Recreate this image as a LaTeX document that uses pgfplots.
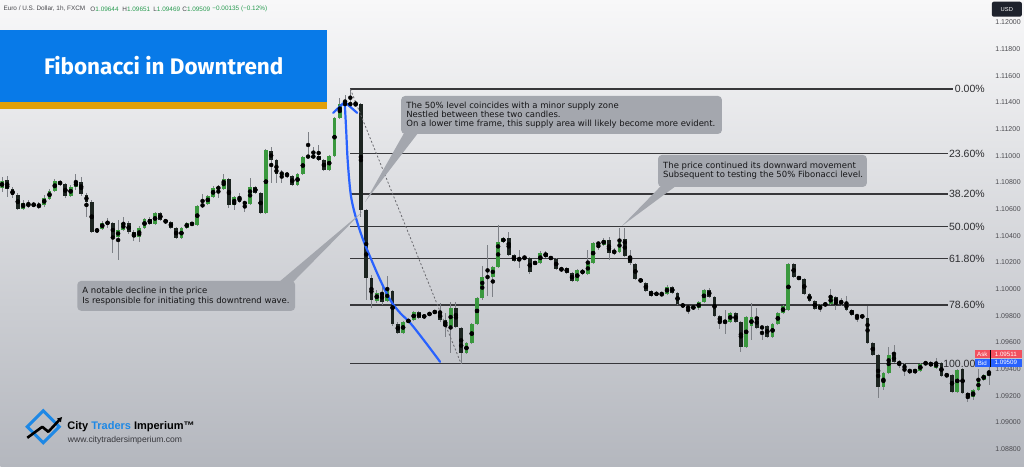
\documentclass[border=0pt]{standalone}
\usepackage{fontspec}
\setmainfont{DejaVu Sans}
\newfontfamily\lib{Liberation Sans}
\newfontfamily\fira{Fira Sans}
\usepackage{pgfplots}
\pgfplotsset{compat=1.18}
\usepackage{pgfplotstable}
\usetikzlibrary{arrows.meta}

\definecolor{bgtop}{RGB}{248,248,249}
\definecolor{bgbot}{RGB}{180,183,190}
\definecolor{cgreen}{RGB}{58,152,62}
\definecolor{cblack}{RGB}{28,36,32}
\definecolor{cwick}{RGB}{125,128,134}
\definecolor{fibline}{RGB}{55,55,58}
\definecolor{fibtext}{RGB}{45,45,48}
\definecolor{ticktext}{RGB}{75,75,80}
\definecolor{tvblue}{RGB}{41,98,255}
\definecolor{boxgray}{RGB}{164,167,174}
\definecolor{annot}{RGB}{22,22,24}
\definecolor{titleblue}{RGB}{8,122,232}
\definecolor{titleorange}{RGB}{225,160,10}
\definecolor{askred}{RGB}{242,80,94}
\definecolor{bidblue}{RGB}{41,98,255}
\definecolor{hdrgreen}{RGB}{40,155,80}
\definecolor{hdrgray}{RGB}{70,70,75}
\definecolor{logoblue}{RGB}{30,136,229}
\definecolor{usdbox}{RGB}{30,34,45}

% bullish (green) candles: index, open, high, low, close
\pgfplotstableread{
i O H L C
0 1.107590 1.108415 1.107290 1.108115
4 1.106015 1.106690 1.105940 1.106465
5 1.106240 1.106690 1.106090 1.106390
6 1.106240 1.106540 1.106165 1.106390
8 1.106315 1.107065 1.106165 1.106840
9 1.106765 1.107515 1.106690 1.107365
10 1.107365 1.108265 1.107290 1.108115
13 1.106990 1.107815 1.106915 1.107665
14 1.107665 1.108640 1.107440 1.108040
18 1.104290 1.104590 1.104215 1.104515
19 1.104515 1.105115 1.104440 1.104965
20 1.104890 1.105340 1.104590 1.105040
22 1.103915 1.105190 1.102190 1.104440
23 1.104440 1.105415 1.104365 1.104965
26 1.103915 1.104740 1.103540 1.104590
27 1.104590 1.105340 1.104515 1.105265
29 1.104890 1.105790 1.104815 1.105715
34 1.103840 1.104665 1.103765 1.104590
35 1.104590 1.105040 1.104515 1.104965
36 1.104815 1.105040 1.104740 1.104965
37 1.104815 1.106315 1.104740 1.106240
38 1.106165 1.107140 1.106090 1.106390
39 1.106390 1.107065 1.106315 1.106990
40 1.106915 1.107740 1.106840 1.107590
41 1.107515 1.107815 1.106840 1.107665
42 1.107515 1.108640 1.107440 1.108265
44 1.106315 1.106990 1.105940 1.106915
47 1.106390 1.108340 1.106315 1.107665
50 1.105715 1.110515 1.105640 1.110440
53 1.108640 1.108940 1.107965 1.108715
56 1.107815 1.108715 1.107740 1.108640
57 1.108640 1.109990 1.108565 1.109915
58 1.109915 1.111790 1.109840 1.109990
62 1.108940 1.110065 1.108865 1.109990
63 1.109990 1.112915 1.109915 1.112840
64 1.112840 1.114340 1.112765 1.113890
65 1.113815 1.114565 1.113590 1.113965
67 1.113815 1.114115 1.113740 1.113890
71 1.099115 1.099940 1.098965 1.099715
73 1.099115 1.100990 1.099040 1.099865
76 1.096715 1.097615 1.096640 1.097540
77 1.097540 1.097765 1.097465 1.097690
78 1.097690 1.098365 1.097615 1.098290
80 1.097840 1.098140 1.097765 1.098065
81 1.098065 1.098290 1.097990 1.098215
82 1.098215 1.098440 1.098140 1.098365
85 1.097240 1.099040 1.095215 1.098590
88 1.095215 1.096040 1.095140 1.095965
89 1.095965 1.097465 1.095890 1.097390
90 1.097390 1.099415 1.097315 1.099340
91 1.099340 1.101740 1.099190 1.100915
93 1.100915 1.101740 1.099415 1.101665
94 1.101665 1.104815 1.101590 1.103540
95 1.103540 1.103915 1.103465 1.103840
98 1.102115 1.102940 1.101590 1.102340
99 1.102340 1.102490 1.102190 1.102415
101 1.101890 1.102115 1.101815 1.102040
102 1.101965 1.102865 1.101890 1.102715
106 1.101440 1.101665 1.101290 1.101590
109 1.100615 1.101515 1.100540 1.101440
111 1.101140 1.102940 1.101065 1.101965
112 1.101965 1.103540 1.101890 1.103465
113 1.103390 1.103540 1.102940 1.103465
114 1.103315 1.103840 1.103240 1.103690
116 1.102715 1.103090 1.102565 1.102865
117 1.102790 1.104590 1.102715 1.103765
125 1.099565 1.099790 1.099490 1.099640
126 1.099640 1.100315 1.099565 1.100165
131 1.098590 1.098815 1.098440 1.098665
132 1.098590 1.099115 1.098440 1.099040
133 1.099040 1.100015 1.098965 1.099940
137 1.097540 1.098440 1.096640 1.097615
138 1.097540 1.098290 1.097465 1.098215
141 1.095665 1.097990 1.095590 1.097915
142 1.097240 1.098965 1.096190 1.097915
146 1.096415 1.097465 1.096340 1.097390
147 1.097390 1.098290 1.097315 1.098215
148 1.098215 1.098815 1.098140 1.098740
149 1.098440 1.101965 1.098365 1.101890
155 1.098515 1.098890 1.098290 1.098815
156 1.098815 1.098965 1.098740 1.098890
157 1.098890 1.100015 1.098815 1.099415
159 1.098965 1.099340 1.098740 1.099040
163 1.097915 1.098065 1.097840 1.097990
167 1.092665 1.093790 1.092440 1.093715
168 1.093715 1.095665 1.093640 1.095065
173 1.093790 1.094015 1.093640 1.093940
174 1.093865 1.094465 1.093790 1.094390
175 1.094390 1.094615 1.094315 1.094465
177 1.094090 1.094840 1.094015 1.094465
179 1.093490 1.093715 1.093415 1.093565
181 1.092290 1.094015 1.092215 1.093940
184 1.091915 1.092515 1.091690 1.092440
185 1.092440 1.094015 1.092365 1.093190
186 1.093190 1.093640 1.093115 1.093565
187 1.093565 1.094690 1.092815 1.093715
}\bullTab

% bearish (dark) candles: index, open, high, low, close
\pgfplotstableread{
i O H L C
1 1.108190 1.108490 1.106915 1.107515
2 1.107515 1.107665 1.106840 1.107065
3 1.107065 1.107215 1.105940 1.106015
7 1.106315 1.106540 1.106015 1.106165
11 1.108040 1.108190 1.107740 1.107890
12 1.107890 1.107965 1.106840 1.106990
15 1.108040 1.108415 1.106990 1.107140
16 1.107065 1.107215 1.105415 1.106540
17 1.106540 1.106690 1.104215 1.104290
21 1.104965 1.105040 1.102715 1.103915
24 1.104965 1.105115 1.104140 1.104290
25 1.104290 1.104440 1.103615 1.103915
28 1.105265 1.105415 1.104815 1.104890
30 1.105715 1.105790 1.105115 1.105190
31 1.105190 1.105265 1.104890 1.105040
32 1.105040 1.105115 1.104515 1.104590
33 1.104590 1.104665 1.103765 1.103840
43 1.108265 1.108340 1.106090 1.106315
45 1.106915 1.107215 1.106465 1.106540
46 1.106540 1.106615 1.105790 1.106390
48 1.107665 1.107740 1.107140 1.107215
49 1.107215 1.107290 1.105640 1.105715
51 1.110365 1.110665 1.107965 1.109690
52 1.109690 1.109765 1.107965 1.108640
54 1.108715 1.108790 1.108340 1.108490
55 1.108490 1.108565 1.107740 1.107815
59 1.109990 1.110665 1.109840 1.109915
60 1.109990 1.110815 1.109615 1.109690
61 1.109690 1.109765 1.108865 1.108940
66 1.113965 1.115015 1.113740 1.113815
68 1.113890 1.113965 1.105415 1.105940
69 1.105940 1.106015 1.099190 1.100840
70 1.100840 1.101065 1.098590 1.099190
72 1.099715 1.100465 1.098815 1.099040
74 1.099865 1.099940 1.097240 1.097390
75 1.097390 1.097540 1.096640 1.096715
79 1.098290 1.098365 1.097765 1.097840
83 1.098290 1.098965 1.097540 1.097690
84 1.097690 1.098215 1.096415 1.097240
86 1.098590 1.099040 1.097090 1.097165
87 1.097090 1.097165 1.094390 1.095215
92 1.100990 1.103315 1.099490 1.100840
96 1.103840 1.104290 1.102490 1.102565
97 1.102565 1.102640 1.102040 1.102115
100 1.102340 1.102415 1.101140 1.101290
103 1.102715 1.102865 1.102340 1.102415
104 1.102415 1.102490 1.102190 1.102265
105 1.102265 1.102340 1.101440 1.101515
107 1.101590 1.101665 1.101140 1.101215
108 1.101215 1.101290 1.100540 1.100615
110 1.101440 1.101515 1.101065 1.101140
115 1.103690 1.103915 1.102190 1.102715
118 1.103765 1.104590 1.102415 1.102490
119 1.102490 1.102940 1.101815 1.101965
120 1.101890 1.101965 1.100690 1.100765
121 1.100765 1.100840 1.100465 1.100540
122 1.100465 1.100540 1.099790 1.099865
123 1.099865 1.099940 1.099415 1.099490
124 1.099715 1.099790 1.099490 1.099565
127 1.100165 1.100240 1.099640 1.099715
128 1.099715 1.099790 1.098815 1.098890
129 1.098890 1.098965 1.098590 1.098665
130 1.098665 1.098740 1.098140 1.098590
134 1.099940 1.100090 1.099340 1.099415
135 1.099415 1.099490 1.097915 1.097990
136 1.097990 1.098065 1.097015 1.097540
139 1.098215 1.098290 1.097465 1.097540
140 1.097540 1.097615 1.095290 1.095665
143 1.097915 1.098590 1.097015 1.097090
144 1.097165 1.097240 1.096190 1.097090
145 1.097240 1.097315 1.096340 1.096415
150 1.101890 1.101965 1.100840 1.100915
151 1.100915 1.100990 1.100690 1.100765
152 1.100765 1.100840 1.099565 1.099640
153 1.099640 1.099715 1.099040 1.099115
154 1.099115 1.099190 1.098440 1.098515
158 1.099415 1.099490 1.098440 1.098965
160 1.098965 1.099490 1.098365 1.098440
161 1.098440 1.098515 1.097990 1.098065
162 1.098065 1.098140 1.097540 1.097915
164 1.097840 1.098740 1.095890 1.095965
165 1.095965 1.096040 1.094990 1.095065
166 1.095065 1.095140 1.091840 1.092665
169 1.095065 1.095815 1.094465 1.094540
170 1.094540 1.094690 1.094090 1.094390
171 1.094390 1.094465 1.093490 1.093940
172 1.093940 1.094015 1.093640 1.093790
176 1.094465 1.094615 1.094165 1.094240
178 1.094465 1.094540 1.093415 1.093490
180 1.093565 1.093640 1.092215 1.092290
182 1.094015 1.094090 1.092140 1.092215
183 1.092215 1.092290 1.091540 1.091915
}\bearTab

\begin{document}
\begin{tikzpicture}
\begin{scope}[x=1pt,y=1pt]
\useasboundingbox (0,0) rectangle (1024,467);
\shade[top color=bgtop, bottom color=bgbot] (0,0) rectangle (1024,467);
% title banner
\fill[titleblue] (0,365) rectangle (327,437);
\fill[titleorange] (0,358) rectangle (327,365);
\node[text=white, font=\fira\bfseries\fontsize{22.5}{26}\selectfont] at (163.5,401) {Fibonacci in Downtrend};
\end{scope}

\begin{axis}[
  at={(0pt,0pt)}, anchor=south west,
  scale only axis, width=992pt, height=467pt,
  xmin=-0.32, xmax=187.55, ymin=1.086665, ymax=1.12169,
  axis line style={draw=none}, tick style={draw=none},
  xtick=\empty,
  ytick={1.088,1.090,1.092,1.094,1.096,1.098,1.100,1.102,1.104,1.106,1.108,1.110,1.112,1.114,1.116,1.118,1.120},
  yticklabel pos=right, scaled y ticks=false,
  y tick label style={font=\lib\fontsize{7}{8}\selectfont, text=ticktext,
    /pgf/number format/.cd, fixed, fixed zerofill, precision=5, assume math mode=true},
  clip=true,
]
% Fibonacci retracement levels
\addplot[fibline, line width=1.3pt] coordinates {(66,1.115015) (180.2,1.115015)};
\addplot[fibline, line width=1.3pt] coordinates {(66,1.1101475) (179.2,1.1101475)};
\addplot[fibline, line width=1.3pt] coordinates {(66,1.1071362) (179.2,1.1071362)};
\addplot[fibline, line width=1.3pt] coordinates {(66,1.1047025) (179.2,1.1047025)};
\addplot[fibline, line width=1.3pt] coordinates {(66,1.1022687) (179.2,1.1022687)};
\addplot[fibline, line width=1.3pt] coordinates {(66,1.0988037) (179.2,1.0988037)};
\addplot[fibline, line width=1.3pt] coordinates {(66,1.094390) (178.2,1.094390)};

% wicks
\addplot[only marks, mark=none, error bars/.cd, y dir=both, y explicit, error mark=none,
  error bar style={cwick, line width=0.9pt}]
  table[x=i, y expr={(\thisrow{H}+\thisrow{L})/2}, y error expr={(\thisrow{H}-\thisrow{L})/2}] {\bullTab};
\addplot[only marks, mark=none, error bars/.cd, y dir=both, y explicit, error mark=none,
  error bar style={cwick, line width=0.9pt}]
  table[x=i, y expr={(\thisrow{H}+\thisrow{L})/2}, y error expr={(\thisrow{H}-\thisrow{L})/2}] {\bearTab};
% bodies
\addplot[only marks, mark=none, error bars/.cd, y dir=both, y explicit, error mark=none,
  error bar style={cgreen, line width=3.8pt}]
  table[x=i, y expr={(\thisrow{O}+\thisrow{C})/2}, y error expr={abs(\thisrow{C}-\thisrow{O})/2}] {\bullTab};
\addplot[only marks, mark=none, error bars/.cd, y dir=both, y explicit, error mark=none,
  error bar style={cblack, line width=3.8pt}]
  table[x=i, y expr={(\thisrow{O}+\thisrow{C})/2}, y error expr={abs(\thisrow{C}-\thisrow{O})/2}] {\bearTab};

% dotted swing line
\addplot[draw={rgb,255:red,105;green,105;blue,110}, line width=0.8pt, dash pattern=on 2pt off 2pt]
  coordinates {(66,1.115015) (87,1.094390)};
% blue drawing
\addplot[tvblue, line width=2.2pt, line cap=round, line join=round]
  coordinates {(62.75,1.11322) (64.93,1.11404) (67.29,1.11322)};
\addplot[tvblue, line width=2.2pt, smooth, tension=0.55, line cap=round]
  coordinates {(64.93,1.11404) (65.21,1.111940) (65.49,1.109690) (65.97,1.107440) (66.44,1.106315)
  (67.29,1.105040) (68.43,1.103690) (69.75,1.102415) (71.65,1.100690) (73.54,1.099190)
  (75.42,1.098215) (77.33,1.097465) (80.17,1.096040) (83.01,1.094540)};

% level labels
\node[anchor=east, inner sep=0pt, font=\lib\fontsize{10.5}{12}\selectfont, text=fibtext] at (axis cs:186.23,1.115015) {0.00\%};
\node[anchor=east, inner sep=0pt, font=\lib\fontsize{10.5}{12}\selectfont, text=fibtext] at (axis cs:186.23,1.1101475) {23.60\%};
\node[anchor=east, inner sep=0pt, font=\lib\fontsize{10.5}{12}\selectfont, text=fibtext] at (axis cs:186.23,1.1071362) {38.20\%};
\node[anchor=east, inner sep=0pt, font=\lib\fontsize{10.5}{12}\selectfont, text=fibtext] at (axis cs:186.23,1.1047025) {50.00\%};
\node[anchor=east, inner sep=0pt, font=\lib\fontsize{10.5}{12}\selectfont, text=fibtext] at (axis cs:186.23,1.1022687) {61.80\%};
\node[anchor=east, inner sep=0pt, font=\lib\fontsize{10.5}{12}\selectfont, text=fibtext] at (axis cs:186.23,1.0988037) {78.60\%};
\node[anchor=east, inner sep=0pt, font=\lib\fontsize{10.5}{12}\selectfont, text=fibtext] at (axis cs:186.23,1.094390) {100.00\%};
\end{axis}

\begin{scope}[x=1pt,y=1pt]
% header
\node[anchor=west, inner sep=0pt, font=\lib\fontsize{6.4}{7}\selectfont, text=hdrgray] at (3,458) {Euro / U.S. Dollar, 1h, FXCM};
\node[anchor=west, inner sep=0pt, font=\lib\fontsize{6.4}{7}\selectfont] at (90,458) {\textcolor{hdrgray}{O}\textcolor{hdrgreen}{1.09644}};
\node[anchor=west, inner sep=0pt, font=\lib\fontsize{6.4}{7}\selectfont] at (122,458) {\textcolor{hdrgray}{H}\textcolor{hdrgreen}{1.09651}};
\node[anchor=west, inner sep=0pt, font=\lib\fontsize{6.4}{7}\selectfont] at (153,458) {\textcolor{hdrgray}{L}\textcolor{hdrgreen}{1.09469}};
\node[anchor=west, inner sep=0pt, font=\lib\fontsize{6.4}{7}\selectfont] at (182,458) {\textcolor{hdrgray}{C}\textcolor{hdrgreen}{1.09509}};
\node[anchor=west, inner sep=0pt, font=\lib\fontsize{6.4}{7}\selectfont, text=hdrgreen] at (212,458) {−0.00135 (−0.12\%)};

% annotation 1
\fill[boxgray, rounded corners=4pt] (401,333) rectangle (722,371);
\fill[boxgray] (404,334) -- (418,334) -- (365,265) -- cycle;
\node[anchor=north west, inner sep=0pt, align=left, font=\fontsize{8.5}{9.2}\selectfont, text=annot] at (406,365.5)
 {The 50\% level coincides with a minor supply zone\\Nestled between these two candles.\\On a lower time frame, this supply area will likely become more evident.};
% annotation 2
\fill[boxgray, rounded corners=4pt] (658,280) rectangle (867,312);
\fill[boxgray] (661,281) -- (676,281) -- (622,241) -- cycle;
\node[anchor=north west, inner sep=0pt, align=left, font=\fontsize{8.5}{9.2}\selectfont, text=annot] at (663,305)
 {The price continued its downward movement\\Subsequent to testing the 50\% Fibonacci level.};
% annotation 3
\fill[boxgray, rounded corners=4pt] (77,156) rectangle (295,186);
\fill[boxgray] (279,185) -- (293,185) -- (362,255) -- cycle;
\node[anchor=north west, inner sep=0pt, align=left, font=\fontsize{8.5}{9.6}\selectfont, text=annot] at (82,180)
 {A notable decline in the price\\Is responsible for initiating this downtrend wave.};

% logo
\draw[logoblue, line width=3pt, line join=miter] (27,40) -- (43,56) -- (59,40) -- (43,24) -- cycle;
\draw[black, line width=2.6pt, line join=round, -{Latex[length=5pt,width=6pt]}] (27,29) -- (42,40) -- (48,35) -- (62,50);
\node[anchor=west, inner sep=0pt, font=\lib\bfseries\fontsize{11}{12}\selectfont] at (67,40.5)
 {City \textcolor{logoblue}{Traders} Imperium™};
\node[anchor=west, inner sep=0pt, font=\lib\fontsize{8.6}{9}\selectfont, text={rgb,255:red,55;green,55;blue,60}] at (67.5,27)
 {www.citytradersimperium.com};

% price scale badges
\fill[usdbox, rounded corners=2pt] (992,450.3) rectangle (1022,465.3);
\node[text=white, font=\lib\fontsize{5.8}{6}\selectfont] at (1007,457.8) {USD};
\fill[askred] (975,108.7) rectangle (1022,117);
\fill[bidblue] (975,99.7) rectangle (1022,108.3);
\draw[black, line width=0.6pt] (990,99.7) -- (990,117);
\node[text=white, font=\lib\fontsize{6.2}{7}\selectfont] at (982.5,112.9) {Ask};
\node[text=white, font=\lib\fontsize{6.2}{7}\selectfont] at (1006,112.9) {1.09511};
\node[text=white, font=\lib\fontsize{6.2}{7}\selectfont] at (982.5,104) {Bid};
\node[text=white, font=\lib\fontsize{6.2}{7}\selectfont] at (1006,104) {1.09509};
\end{scope}
\end{tikzpicture}
\end{document}
